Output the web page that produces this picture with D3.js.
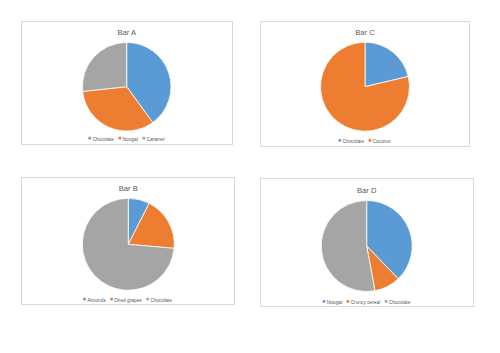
<!DOCTYPE html>
<html><head><meta charset="utf-8">
<script src="https://cdn.jsdelivr.net/npm/d3@7"></script>
<style>body{margin:0;background:#fff}svg{display:block}</style>
</head><body>
<script>
// Data
const titles = ["Bar A", "Bar C", "Bar B", "Bar D"];
const catsA = ["Chocolate", "Nougat", "Caramel"];
const valsA = [40, 33.3, 26.7];
const catsC = ["Chocolate", "Coconut"];
const valsC = [21.3, 78.7];
const catsB = ["Almonds", "Dried grapes", "Chocolate"];
const valsB = [7.5, 18.9, 73.6];
const catsD = ["Nougat", "Cruncy cereal", "Chocolate"];
const valsD = [37.8, 9.3, 52.9];
const colors = ["#5B9BD5", "#ED7D31", "#A5A5A5"];

const svg = d3.select("body").append("svg").attr("width", 500).attr("height", 353);
svg.append("rect").attr("width", 500).attr("height", 353).attr("fill", "#fff");

const panels = [
  {title: titles[0], cats: catsA, vals: valsA, box: [21, 21, 232, 144], c: [126.7, 86.7], r: 44.3, ty: 35, ly: 139},
  {title: titles[1], cats: catsC, vals: valsC, box: [260, 21, 469, 146], c: [365, 86.7], r: 44.5, ty: 35, ly: 141.3},
  {title: titles[2], cats: catsB, vals: valsB, box: [21, 177, 234, 304], c: [128.3, 244.3], r: 46, ty: 191, ly: 300},
  {title: titles[3], cats: catsD, vals: valsD, box: [260, 178, 473, 306], c: [366.7, 246], r: 45.5, ty: 193, ly: 302.3}
];

const font = "'Liberation Sans', Arial, sans-serif";
panels.forEach(p => {
  const g = svg.append("g");
  const [x0, y0, x1, y1] = p.box;
  g.append("rect").attr("x", x0 + 0.5).attr("y", y0 + 0.5).attr("width", x1 - x0).attr("height", y1 - y0)
    .attr("fill", "#fff").attr("stroke", "#D9D9D9").attr("stroke-width", 1);
  const cx = (x0 + x1) / 2;
  g.append("text").attr("x", p.c[0]).attr("y", p.ty).attr("text-anchor", "middle")
    .attr("font-family", font).attr("font-size", 7.6).attr("fill", "#595959").text(p.title);

  const pie = d3.pie().sort(null).value(d => d.v);
  const arc = d3.arc().innerRadius(0).outerRadius(p.r);
  const data = p.cats.map((c, i) => ({c, v: p.vals[i]}));
  const color = d3.scaleOrdinal().domain(p.cats).range(colors);
  g.append("g").attr("transform", `translate(${p.c[0]},${p.c[1]})`)
    .selectAll("path").data(pie(data)).join("path")
    .attr("d", arc).attr("fill", d => color(d.data.c))
    .attr("stroke", "#fff").attr("stroke-width", 0.8);

  // legend
  const lg = g.append("g");
  let x = 0;
  const items = p.cats.map((c, i) => {
    const it = lg.append("g");
    it.append("rect").attr("x", x).attr("y", -2.2).attr("width", 2.6).attr("height", 2.6).attr("fill", color(c));
    const t = it.append("text").attr("x", x + 4).attr("y", 0).attr("dy", "0.35em")
      .attr("font-family", font).attr("font-size", 4.8).attr("fill", "#595959").text(c);
    x += 4 + t.node().getComputedTextLength() + 4.5;
  });
  const w = x - 4.5;
  lg.attr("transform", `translate(${cx - w / 2},${p.ly})`);
});
</script>
</body></html>
